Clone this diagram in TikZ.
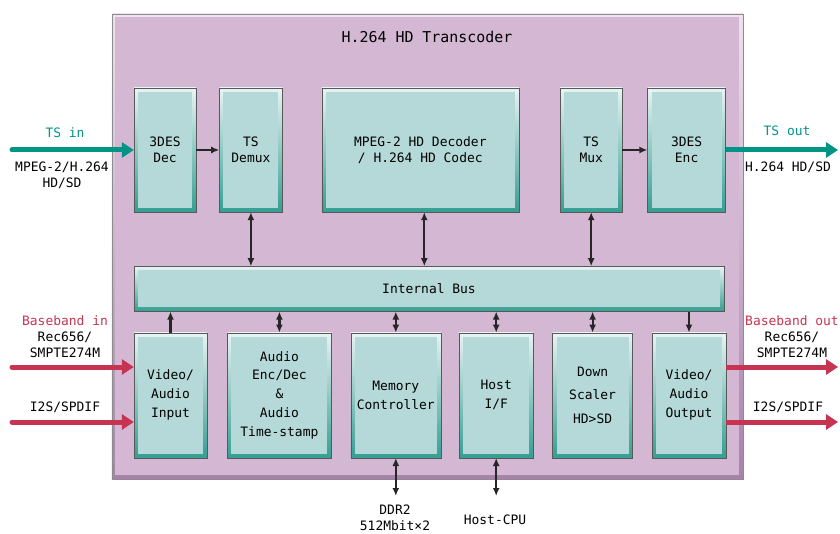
\documentclass[tikz,border=0pt]{standalone}
\usepackage{fontspec}
\setmainfont{DejaVu Sans Mono}
\usetikzlibrary{shapes,arrows.meta,positioning}
\definecolor{chipbg}{RGB}{211,183,211}
\definecolor{chipedge}{RGB}{168,128,172}
\definecolor{blockbg}{RGB}{181,217,216}
\definecolor{blockedge}{RGB}{52,158,146}
\definecolor{tsgreen}{RGB}{0,148,134}
\definecolor{bbred}{RGB}{198,52,82}
\tikzstyle{chip} = [rectangle, draw=black!45, top color=chipbg!40!white, bottom color=chipedge, inner sep=0pt, minimum width=631bp, minimum height=465bp, path picture={\fill[chipbg] ([shift={(3bp,-3bp)}]path picture bounding box.north west) rectangle ([shift={(-4bp,4bp)}]path picture bounding box.south east);}]
\tikzstyle{block} = [rectangle, draw=black!65, top color=blockbg!30!white, bottom color=blockedge, inner sep=0pt, text centered, align=center, minimum height=124bp, path picture={\fill[blockbg] ([shift={(4bp,-4bp)}]path picture bounding box.north west) rectangle ([shift={(-4bp,4bp)}]path picture bounding box.south east);}]
\tikzstyle{block2} = [block, minimum height=125bp, font=\fontsize{13}{19}\selectfont]
\tikzstyle{busblock} = [block, minimum height=45bp, minimum width=590bp]
\tikzstyle{line} = [draw, black!85, line width=2.2bp, -{Latex[length=8bp,width=7bp]}]
\tikzstyle{dline} = [line, {Latex[length=8bp,width=7bp]}-{Latex[length=8bp,width=7bp]}]
\tikzstyle{tsline} = [draw=tsgreen, line width=5bp, -{Triangle[length=12bp,width=15bp]}]
\tikzstyle{redline} = [draw=bbred, line width=5bp, -{Triangle[length=12bp,width=15bp]}]
\tikzstyle{label} = [align=center, inner sep=0pt]

\begin{document}
\begin{tikzpicture}[x=1bp, y=-1bp, font=\fontsize{13}{16}\selectfont]
    \useasboundingbox (0,0) rectangle (840,534);
    \node [chip] (chip) at (427.5,246.5) {};
    \node [label, font=\fontsize{15}{18}\selectfont] (title) at (427,37) {H.264 HD Transcoder};
    \node [block, minimum width=62bp] (dec) at (165,150) {3DES\\Dec};
    \node [block, minimum width=63bp, right=23bp of dec] (demux) {TS\\Demux};
    \node [block, minimum width=197bp, right=39bp of demux] (codec) {MPEG-2 HD Decoder\\ / H.264 HD Codec};
    \node [block, minimum width=62bp, right=41bp of codec] (mux) {TS\\Mux};
    \node [block, minimum width=78bp, right=25bp of mux] (enc) {3DES\\Enc};
    \node [busblock, below right=54bp and 0bp of dec.south west] (bus) {Internal Bus};
    \node [block2, minimum width=73bp, below right=21bp and 0bp of bus.south west] (vin) {Video/\\Audio\\Input};
    \node [block2, minimum width=104bp, right=20bp of vin] (audio) {Audio\\Enc/Dec\\\&\\Audio\\Time-stamp};
    \node [block2, minimum width=90bp, right=19bp of audio] (mem) {Memory\\Controller};
    \node [block2, minimum width=74bp, right=18bp of mem] (host) {Host\\I/F};
    \node [block2, minimum width=80bp, right=19bp of host, font=\fontsize{13}{24}\selectfont] (scaler) {Down\\Scaler\\HD>SD};
    \node [block2, minimum width=74bp, right=19bp of scaler] (vout) {Video/\\Audio\\Output};
    \path [line] (dec.east) -- (demux.west);
    \path [line] (mux.east) -- (enc.west);
    \path [dline] (demux.south) -- (demux.south |- bus.north);
    \path [dline] ([xshift=4bp]codec.south) -- ([xshift=4bp]codec.south |- bus.north);
    \path [dline] (mux.south) -- (mux.south |- bus.north);
    \path [line] (vin.north) -- (vin.north |- bus.south);
    \path [dline] (audio.north) -- (audio.north |- bus.south);
    \path [dline] (mem.north) -- (mem.north |- bus.south);
    \path [dline] (host.north) -- (host.north |- bus.south);
    \path [dline] (scaler.north) -- (scaler.north |- bus.south);
    \path [line] (vout.north |- bus.south) -- (vout.north);
    \coordinate[below=38bp of mem.south] (ddrc);
    \coordinate[below=38bp of host.south] (cpuc);
    \path [dline] (mem.south) -- (ddrc);
    \path [dline] (host.south) -- (cpuc);
    \node [label] (ddr) at (395,518) {DDR2\\512Mbit×2};
    \node [label] (cpu) at (495,520) {Host-CPU};
    \coordinate (tsin) at (12,150);
    \coordinate (tsout) at (838,150);
    \path [tsline, line cap=round] (tsin) -- (dec.west);
    \path [tsline] (enc.east) -- (tsout);
    \node [label, text=tsgreen] (tsinl) at (65,133) {TS in};
    \node [label] (tsinf) at (62,175) {MPEG-2/H.264\\HD/SD};
    \node [label, text=tsgreen] (tsoutl) at (787,131) {TS out};
    \node [label] (tsoutf) at (788,167) {H.264 HD/SD};
    \coordinate (bbin) at (12,367);
    \coordinate (audin) at (12,422);
    \coordinate (bbout) at (838,367);
    \coordinate (audout) at (838,422);
    \path [redline, line cap=round] (bbin) -- (bbin -| vin.west);
    \path [redline, line cap=round] (audin) -- (audin -| vin.west);
    \path [redline] (bbout -| vout.east) -- (bbout);
    \path [redline] (audout -| vout.east) -- (audout);
    \node [label, text=bbred] (bbinl) at (65,321) {Baseband in};
    \node [label] (bbinf) at (65,345) {Rec656/\\SMPTE274M};
    \node [label] (audinf) at (65,407) {I2S/SPDIF};
    \node [label, text=bbred] (bboutl) at (792,321) {Baseband out};
    \node [label] (bboutf) at (792,345) {Rec656/\\SMPTE274M};
    \node [label] (audoutf) at (788,407) {I2S/SPDIF};
\end{tikzpicture}
\end{document}
